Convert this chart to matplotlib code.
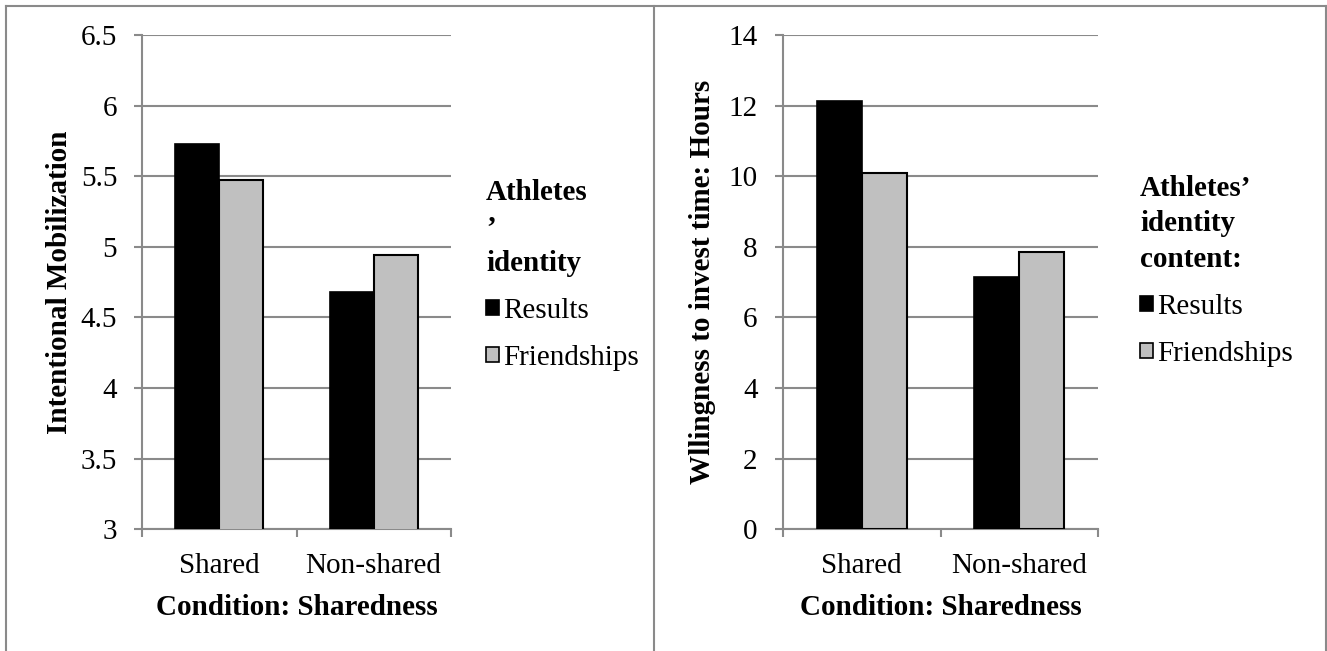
import numpy as np
import matplotlib
matplotlib.use("Agg")
import matplotlib.pyplot as plt
from matplotlib.lines import Line2D
from matplotlib.ticker import FixedLocator, FuncFormatter

conditions = ["Shared", "Non-shared"]
series = ["Results", "Friendships"]
mobilization_results = [5.73, 4.68]
mobilization_friendships = [5.47, 4.94]
hours_results = [12.13, 7.16]
hours_friendships = [10.09, 7.85]

GRAY = "#8a8a8a"
LIGHT = "#c0c0c0"

plt.rcParams["font.family"] = ["Liberation Serif", "DejaVu Serif"]
plt.rcParams["font.size"] = 21

W, H = 1327, 651
fig = plt.figure(figsize=(W / 100, H / 100), dpi=100)
ax1 = fig.add_axes([142.3 / W, 1 - 529.3 / H, 308.4 / W, 494.3 / H])
ax2 = fig.add_axes([782.7 / W, 1 - 529.3 / H, 315.6 / W, 494.3 / H])


def draw_panel(ax, results, friendships, ylim, step, ylabel, title, legend_xy, label_x):
    x = np.arange(len(conditions))
    w = 1 / 3.5
    ax.bar(x - w / 2, results, w, color="black", edgecolor="black",
           linewidth=1.2, label=series[0], zorder=3)
    ax.bar(x + w / 2, friendships, w, color=LIGHT, edgecolor="black",
           linewidth=1.5, label=series[1], zorder=3)

    ax.set_xlim(-0.5, len(conditions) - 0.5)
    ax.set_ylim(*ylim)
    ax.set_yticks(np.arange(ylim[0], ylim[1] + step / 2, step))
    ax.yaxis.set_major_formatter(FuncFormatter(lambda v, p: f"{v:g}"))
    ax.grid(axis="y", color=GRAY, linewidth=1.5, zorder=0)
    ax.set_axisbelow(True)

    ax.set_xticks(x)
    ax.set_xticklabels(conditions)
    ax.xaxis.set_minor_locator(FixedLocator(np.arange(-0.5, len(conditions), 1.0)))
    ax.tick_params(axis="x", which="major", length=0, pad=17)
    ax.tick_params(axis="x", which="minor", length=6, width=1.5, color=GRAY)
    ax.tick_params(axis="y", length=6, width=1.5, color=GRAY, pad=12)

    for s in ["top", "right"]:
        ax.spines[s].set_visible(False)
    for s in ["left", "bottom"]:
        ax.spines[s].set_color(GRAY)
        ax.spines[s].set_linewidth(1.5)

    ax.set_ylabel(ylabel, fontweight="bold")
    ax.yaxis.set_label_coords(label_x, 0.5)
    ax.set_xlabel("Condition: Sharedness", fontweight="bold")
    ax.xaxis.set_label_coords(0.5, -0.13)

    leg = ax.legend(title=title, loc="upper left",
                    bbox_to_anchor=legend_xy, bbox_transform=fig.transFigure,
                    frameon=False, borderpad=0, borderaxespad=0,
                    handlelength=0.45, handleheight=0.45, handletextpad=0.15,
                    labelspacing=0.72, alignment="left",
                    title_fontproperties={"weight": "bold", "size": 21})
    leg.get_title().set_linespacing(1.4)
    for h in leg.legend_handles:
        h.set_edgecolor("black")
        h.set_linewidth(1.2)


draw_panel(ax1, mobilization_results, mobilization_friendships, (3, 6.5), 0.5,
           "Intentional Mobilization", "Athletes\n\u2019\nidentity",
           (486 / W, 1 - 179 / H), -0.225)
draw_panel(ax2, hours_results, hours_friendships, (0, 14), 2,
           "Wllingness to invest time: Hours",
           "Athletes\u2019\nidentity\ncontent:",
           (1140 / W, 1 - 175 / H), -0.211)

# outer frame and divider
lw = 1.5
fig.add_artist(Line2D([6 / W, 1325.5 / W], [1 - 6 / H] * 2, transform=fig.transFigure, color=GRAY, lw=lw))
fig.add_artist(Line2D([6 / W] * 2, [0, 1 - 6 / H], transform=fig.transFigure, color=GRAY, lw=lw))
fig.add_artist(Line2D([1325.5 / W] * 2, [0, 1 - 6 / H], transform=fig.transFigure, color=GRAY, lw=lw))
fig.add_artist(Line2D([654 / W] * 2, [0, 1 - 6 / H], transform=fig.transFigure, color=GRAY, lw=lw))

fig.savefig("out.png", dpi=100)
